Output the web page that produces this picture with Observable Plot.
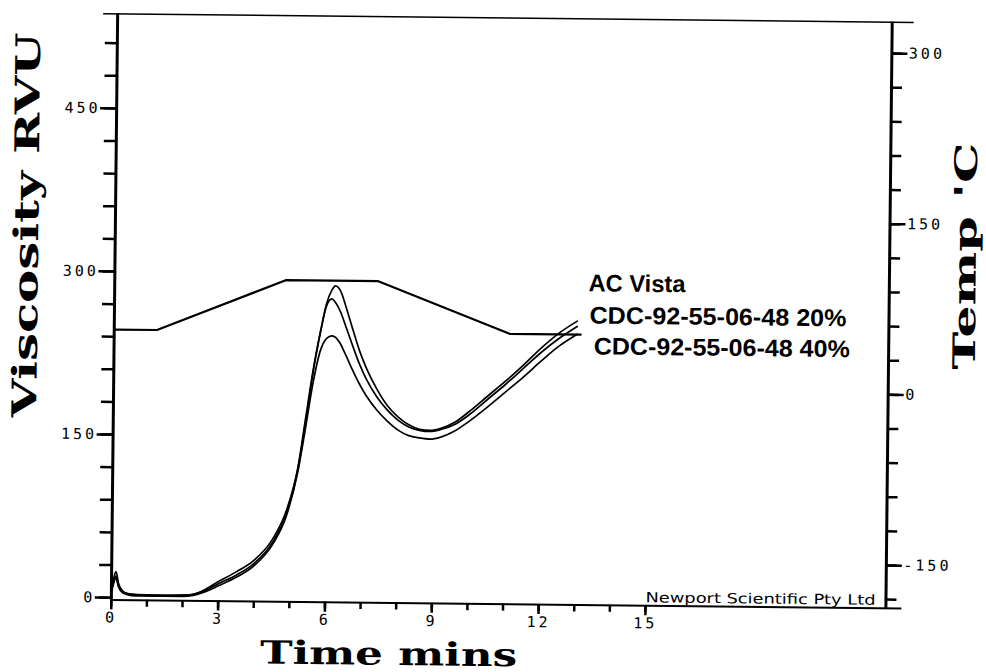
<!DOCTYPE html>
<html><head><meta charset="utf-8">
<script src="https://cdn.jsdelivr.net/npm/d3@7"></script>
<script src="https://cdn.jsdelivr.net/npm/@observablehq/plot@0.6"></script>
<style>
html,body{margin:0;padding:0;background:#fff;}
#wrap{width:986px;height:672px;transform:rotate(0.62deg);transform-origin:493px 336px;}
g[aria-label$="tick label"] text{letter-spacing:3px;}
</style></head><body><div id="wrap"></div>
<script>
// ---- data ----
const time    = [0, 0.05, 0.12, 0.2, 0.3, 0.45, 0.7, 1.0, 1.5, 2.0, 2.3, 2.6, 3.0, 3.5, 4.0, 4.5, 4.9, 5.2, 5.4, 5.6, 5.8, 5.95, 6.1, 6.2, 6.35, 6.5, 6.7, 6.9, 7.1, 7.4, 7.7, 8.0, 8.3, 8.6, 8.9, 9.2, 9.6, 10.0, 10.5, 11.0, 11.5, 12.0, 12.5, 13.0];
const acVista = [8, 16, 24, 13, 7, 4, 3, 3, 3, 3, 4, 8, 16, 25, 36, 55, 83, 122, 167, 212, 248, 272, 285, 289, 284, 270, 249, 229, 213, 194, 179, 169, 162, 158, 157, 159, 165, 175, 189, 203, 218, 234, 248, 259];
const cdc20   = [6, 14, 20, 11, 6, 4, 3, 2, 2, 3, 4, 7, 14, 22, 33, 52, 80, 120, 163, 210, 248, 270, 277, 274, 265, 252, 234, 217, 203, 187, 175, 166, 160, 157, 156, 158, 163, 172, 186, 200, 215, 230, 243, 254];
const cdc40   = [5, 12, 18, 10, 5, 3, 2, 2, 2, 2, 3, 6, 12, 20, 31, 50, 78, 118, 158, 200, 230, 240, 243, 242, 236, 226, 212, 199, 188, 175, 165, 157, 152, 150, 149, 151, 157, 166, 179, 193, 207, 222, 236, 247];
const seriesNames = ["AC Vista", "CDC-92-55-06-48 20%", "CDC-92-55-06-48 40%"];

const tempTime  = [0, 1.2, 4.8, 7.4, 11.1, 13.1];
const tempValue = [50, 50, 95, 95, 50, 50];

const xTicksMinor = [0,1,2,3,4,5,6,7,8,9,10,11,12,13,14,15];
const xTicksMajor = [0,3,6,9,12,15];
const yTicksMinor = [0,30,60,90,120,150,180,210,240,270,300,330,360,390,420,450,480,510];
const yTicksMajor = [0,150,300,450];
const tempTicksMinor = [-180,-150,-120,-90,-60,-30,0,30,60,90,120,150,180,210,240,270,300];
const tempTicksMajor = [-150,0,150,300];

const xTitle = "Time mins";
const yTitle = "Viscosity RVU";
const tempTitle = "Temp 'C";
const credit = "Newport Scientific Pty Ltd";

// ---- layout ----
const W = 986, H = 672, ML = 113.7, MR = 97.7, MT = 17.4, MB = 68.5;
const FW = W - ML - MR, FH = H - MT - MB;
const X_MAX = 21.75, Y_MIN = -2, Y_MAX = 537;
// dual axis mapping (temperature drawn against the viscosity scale)
const tempToV = t => 194.3 + 1.0463 * t;
const vToTemp = v => (v - 194.3) / 1.0463;

const rows = [];
[acVista, cdc20, cdc40].forEach((arr, k) => arr.forEach((v, i) => rows.push({series: seriesNames[k], t: time[i], v})));
const tempRows = tempTime.map((t, i) => ({t, temp: tempValue[i]}));

const legendFont = {fontFamily: "Liberation Sans", fontWeight: "bold", fontSize: 24, frameAnchor: "top-left", textAnchor: "start", lineAnchor: "middle", fill: "black"};
const tickStyle = {strokeWidth: 2.5, stroke: "black"};

const chart = Plot.plot({
  width: W, height: H,
  marginLeft: ML, marginRight: MR, marginTop: MT, marginBottom: MB,
  x: {domain: [0, X_MAX]},
  y: {domain: [Y_MIN, Y_MAX]},
  style: {fontFamily: "DejaVu Sans Mono", fontSize: "15px", color: "black", background: "white"},
  marks: [
    // tick marks
    Plot.ruleX(xTicksMinor, {insetTop: FH, insetBottom: -7, ...tickStyle}),
    Plot.ruleX(xTicksMajor, {insetTop: FH, insetBottom: -10, ...tickStyle}),
    Plot.ruleY(yTicksMinor, {insetRight: FW, insetLeft: -12, ...tickStyle}),
    Plot.ruleY(yTicksMajor, {insetRight: FW, insetLeft: -16, ...tickStyle}),
    Plot.ruleY(tempTicksMinor.map(tempToV), {insetLeft: FW, insetRight: -11, ...tickStyle}),
    Plot.ruleY(tempTicksMajor.map(tempToV), {insetLeft: FW, insetRight: -16, ...tickStyle}),
    // tick labels
    Plot.axisX(xTicksMajor, {tickSize: 0, tickPadding: 12, label: null}),
    Plot.axisY(yTicksMajor, {anchor: "left", tickSize: 0, tickPadding: 16, label: null}),
    Plot.axisY(tempTicksMajor.map(tempToV), {anchor: "right", tickSize: 0, tickPadding: 17, label: null, tickFormat: v => String(Math.round(vToTemp(v)))}),
    // frame
    Plot.ruleX([0], {strokeWidth: 3}),
    Plot.ruleX([X_MAX], {strokeWidth: 3}),
    Plot.ruleY([Y_MIN], {strokeWidth: 2, insetRight: -16}),
    Plot.ruleY([Y_MAX], {strokeWidth: 1.5, insetLeft: -14, insetRight: -22}),
    // data
    Plot.line(tempRows, {x: "t", y: d => tempToV(d.temp), stroke: "black", strokeWidth: 2.2}),
    Plot.line(rows, {x: "t", y: "v", z: "series", stroke: "black", strokeWidth: 1.7, curve: "monotone-x"}),
    // annotations
    Plot.text([credit], {frameAnchor: "bottom-right", dx: -10.4, dy: -3.4, lineAnchor: "bottom", textAnchor: "end", fontFamily: "DejaVu Sans", fontSize: 14, fill: "black"}),
    Plot.text([seriesNames[0]], {...legendFont, dx: 473.7, dy: 264.6}),
    Plot.text([seriesNames[1]], {...legendFont, dx: 475.1, dy: 296.9}),
    Plot.text([seriesNames[2]], {...legendFont, dx: 479.7, dy: 327.7})
  ]
});

const fit = {};
fit[credit] = 230; fit[seriesNames[0]] = 97; fit[seriesNames[1]] = 257; fit[seriesNames[2]] = 256;
const svg = d3.select(chart);
svg.selectAll("text").each(function() {
  const L = fit[this.textContent];
  if (L) d3.select(this).attr("textLength", L).attr("lengthAdjust", "spacingAndGlyphs");
});

function title(txt, x, y, rot, size, len) {
  svg.append("text")
    .attr("transform", `translate(${x},${y})` + (rot ? ` rotate(${rot})` : ""))
    .attr("text-anchor", "middle")
    .attr("font-family", "DejaVu Serif")
    .attr("font-weight", "bold")
    .attr("font-size", size)
    .attr("fill", "black")
    .attr("textLength", len)
    .attr("lengthAdjust", "spacingAndGlyphs")
    .text(txt);
}
title(yTitle, 37, 230, -90, 34, 385);
title(xTitle, 392, 666, 0, 32, 257);
title(tempTitle, 975, 251, -90, 31, 227);

document.getElementById("wrap").appendChild(chart);
</script>
</body></html>
